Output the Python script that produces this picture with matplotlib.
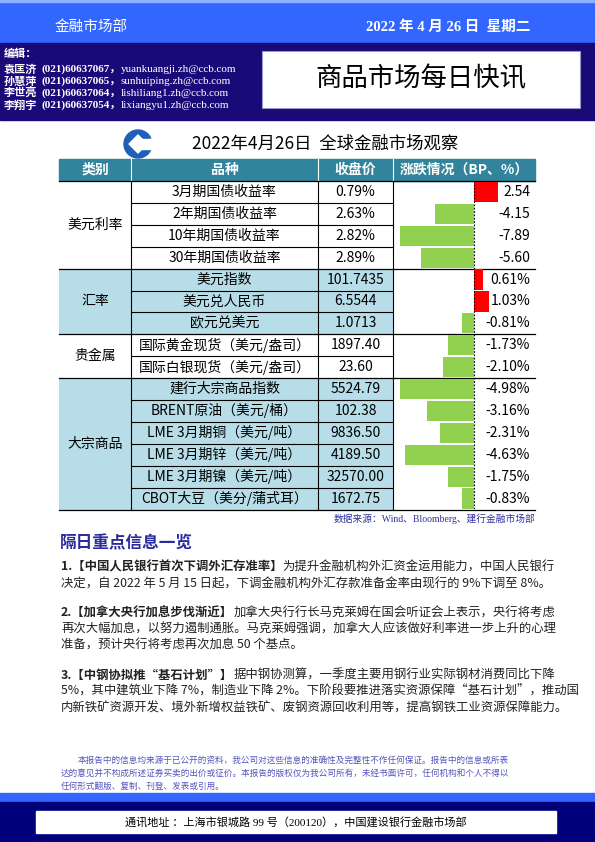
import matplotlib
matplotlib.use("Agg")
import matplotlib.pyplot as plt
from matplotlib.patches import Rectangle, Circle, Polygon, Wedge

plt.rcParams['font.family'] = ['Noto Sans CJK SC', 'DejaVu Sans']
SERIF = ['Liberation Serif', 'Noto Sans CJK SC']

categories = ['美元利率', '汇率', '贵金属', '大宗商品']
group_sizes = [4, 3, 2, 6]
items = ['3月期国债收益率', '2年期国债收益率', '10年期国债收益率', '30年期国债收益率',
         '美元指数', '美元兑人民币', '欧元兑美元',
         '国际黄金现货（美元/盎司）', '国际白银现货（美元/盎司）',
         '建行大宗商品指数', 'BRENT原油（美元/桶）', 'LME 3月期铜（美元/吨）',
         'LME 3月期锌（美元/吨）', 'LME 3月期镍（美元/吨）', 'CBOT大豆（美分/蒲式耳）']
closes = ['0.79%', '2.63%', '2.82%', '2.89%', '101.7435', '6.5544', '1.0713',
          '1897.40', '23.60', '5524.79', '102.38', '9836.50', '4189.50', '32570.00', '1672.75']
changes = [2.54, -4.15, -7.89, -5.60, 0.61, 1.03, -0.81, -1.73, -2.10,
           -4.98, -3.16, -2.31, -4.63, -1.75, -0.83]
change_labels = ['2.54', '-4.15', '-7.89', '-5.60', '0.61%', '1.03%', '-0.81%', '-1.73%',
                 '-2.10%', '-4.98%', '-3.16%', '-2.31%', '-4.63%', '-1.75%', '-0.83%']
headers = ['类别', '品种', '收盘价', '涨跌情况（BP、%）']

editors = [('袁匡济', '(021)60637067，', 'yuankuangji.zh@ccb.com'),
           ('孙慧萍', '(021)60637065，', 'sunhuiping.zh@ccb.com'),
           ('李世亮', '(021)60637064，', 'lishiliang1.zh@ccb.com'),
           ('李翔宇', '(021)60637054，', 'lixiangyu1.zh@ccb.com')]

news = [
    [[('1.【中国人民银行首次下调外汇存准率】', True), ('为提升金融机构外汇资金运用能力，中国人民银行', False)],
     [('决定，自 2022 年 5 月 15 日起，下调金融机构外汇存款准备金率由现行的 9%下调至 8%。', False)]],
    [[('2.【加拿大央行加息步伐渐近】', True), ('加拿大央行行长马克莱姆在国会听证会上表示，央行将考虑', False)],
     [('再次大幅加息，以努力遏制通胀。马克莱姆强调，加拿大人应该做好利率进一步上升的心理', False)],
     [('准备，预计央行将考虑再次加息 50 个基点。', False)]],
    [[('3.【中钢协拟推“基石计划”】', True), ('据中钢协测算，一季度主要用钢行业实际钢材消费同比下降', False)],
     [('5%，其中建筑业下降 7%，制造业下降 2%。下阶段要推进落实资源保障“基石计划”，推动国', False)],
     [('内新铁矿资源开发、境外新增权益铁矿、废钢资源回收利用等，提高钢铁工业资源保障能力。', False)]],
]
disclaimer = ['本报告中的信息均来源于已公开的资料，我公司对这些信息的准确性及完整性不作任何保证。报告中的信息或所表',
              '达的意见并不构成所述证券买卖的出价或征价。本报告的版权仅为我公司所有，未经书面许可，任何机构和个人不得以',
              '任何形式翻版、复制、刊登、发表或引用。']

W, H = 595, 842
fig = plt.figure(figsize=(W / 100, H / 100), dpi=100)
ax = fig.add_axes([0, 0, 1, 1])
ax.set_xlim(0, W); ax.set_ylim(H, 0); ax.axis('off')
r = fig.canvas.get_renderer()

# header bands
ax.add_patch(Rectangle((0, 0), W, 43, color='#3366FF'))
ax.add_patch(Rectangle((0, 0), W, 2, color='#8FB0FF'))
ax.add_patch(Rectangle((0, 43), W, 77, color='#1A0A78'))
ax.text(55, 27, '金融市场部', color='white', fontsize=10.5, va='center')
ax.text(531, 27, '2022 年 4 月 26 日  星期二', color='white', fontsize=10.5, va='center', ha='right',
        family=SERIF, fontweight='bold')
ax.text(4, 53, '编辑：', color='white', fontsize=8, va='center', fontweight='bold')
for i, (n, p, e) in enumerate(editors):
    y = 69 + i * 12
    t = ax.text(4, y, n, color='white', fontsize=8, va='center', fontweight='bold')
    x = 4 + t.get_window_extent(r).width + 4
    t = ax.text(x, y, p, color='white', fontsize=8, va='center', family=SERIF, fontweight='bold')
    x += t.get_window_extent(r).width
    ax.text(x, y, e, color='white', fontsize=8, va='center', family=SERIF)
ax.add_patch(Rectangle((262, 51), 318, 57, facecolor='white', edgecolor='#9999CC', lw=0.8))
ax.text(421, 79, '商品市场每日快讯', fontsize=19, ha='center', va='center', color='black')

# logo
ax.add_patch(Circle((138, 144), 14, color='#1F5FB8'))
ax.add_patch(Polygon([(138, 135), (147, 144), (138, 153), (129, 144)], color='white'))
ax.add_patch(Wedge((138, 144), 15, -20, 20, color='white'))
ax.add_patch(Rectangle((141, 139), 12, 10, color='white'))
ax.text(325, 144, '2022年4月26日  全球金融市场观察', fontsize=12.5, ha='center', va='center')

# table
cols = [59, 131, 318, 393, 535]
top, hh, rh = 159, 22, 21.9
r0 = top + hh
ax.add_patch(Rectangle((cols[0], top), cols[-1] - cols[0], hh, color='#31849B'))
for j, h in enumerate(headers):
    ax.text((cols[j] + cols[j + 1]) / 2, top + hh / 2, h, color='white', fontsize=10,
            fontweight='bold', ha='center', va='center')
for c in cols[1:4]:
    ax.plot([c, c], [top, top + hh], color='white', lw=0.8)
n = len(items)
start = 0
for g, (cat, sz) in enumerate(zip(categories, group_sizes)):
    y0 = r0 + start * rh
    fc = '#B7DEE8' if g % 2 == 1 else 'white'
    ax.add_patch(Rectangle((cols[0], y0), cols[3] - cols[0], sz * rh, facecolor=fc, edgecolor='none'))
    ax.text((cols[0] + cols[1]) / 2, y0 + sz * rh / 2, cat, fontsize=10, ha='center', va='center')
    for k in range(1, sz):
        ax.plot([cols[1], cols[3]], [y0 + k * rh] * 2, color='black', lw=0.8)
    ax.plot([cols[0], cols[4]], [y0, y0], color='black', lw=0.9)
    start += sz
ax.plot([cols[0], cols[4]], [r0 + n * rh] * 2, color='black', lw=0.9)
for c in cols[1:4]:
    ax.plot([c, c], [r0, r0 + n * rh], color='black', lw=0.8)
for i in range(n):
    yc = r0 + (i + 0.5) * rh
    ax.text((cols[1] + cols[2]) / 2, yc, items[i], fontsize=10, ha='center', va='center')
    ax.text((cols[2] + cols[3]) / 2, yc, closes[i], fontsize=10, ha='center', va='center')
    ax.text(530, yc, change_labels[i], fontsize=10, ha='right', va='center')

# bars: two scales (BP rows, % rows)
zero_px = 474
for rows, scale in [(range(0, 4), 9.4), (range(4, n), 14.9)]:
    rows = list(rows)
    ytop = r0 + rows[0] * rh
    ybot = r0 + (rows[-1] + 1) * rh
    bax = fig.add_axes([cols[3] / W, 1 - ybot / H, (cols[4] - cols[3]) / W, (ybot - ytop) / H])
    bax.set_xlim((cols[3] - zero_px) / scale, (cols[4] - zero_px) / scale)
    bax.set_ylim(len(rows) - 0.5, -0.5)
    vals = [changes[i] for i in rows]
    bax.barh(range(len(rows)), vals, height=0.92,
             color=['#FF0000' if v > 0 else '#92D050' for v in vals])
    bax.axvline(0, color='black', ls=(0, (1.5, 1.5)), lw=0.8)
    bax.axis('off')

ax.text(535, 519, '数据来源：Wind、Bloomberg、建行金融市场部', fontsize=7, ha='right', va='center',
        color='#3030A0', family=SERIF)

ax.text(60, 543, '隔日重点信息一览', fontsize=12, fontweight='bold', color='#2B2BA0', va='center')
ys = [[567, 584], [613, 629, 645], [675, 691, 708]]
for para, yl in zip(news, ys):
    for line, y in zip(para, yl):
        x = 61
        for txt, b in line:
            t = ax.text(x, y, txt, fontsize=8.9, va='center', color='#222222',
                        fontweight='bold' if b else 'normal')
            x += t.get_window_extent(r).width

for i, (line, y) in enumerate(zip(disclaimer, [760, 773, 786])):
    ax.text(78 if i == 0 else 61, y, line, fontsize=6.2, color='#5555BB', va='center')

ax.add_patch(Rectangle((0, 793), W, 9, color='#3366FF'))
ax.add_patch(Rectangle((0, 802), W, 40, color='#00007A'))
ax.add_patch(Rectangle((36, 811), 520, 22, color='white'))
ax.text(296, 822, '通讯地址 ：上海市银城路 99 号（200120），中国建设银行金融市场部', fontsize=8,
        ha='center', va='center', family=SERIF)

fig.savefig('out.png', dpi=100)
